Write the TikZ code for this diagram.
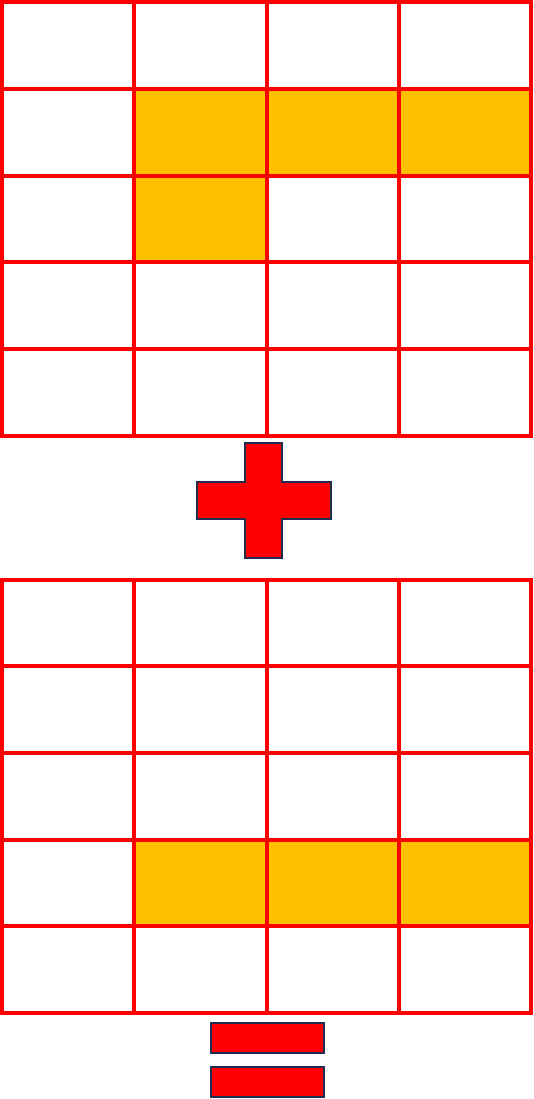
\documentclass[tikz,border=0pt]{standalone}
\usepackage{tikz}
\definecolor{gridred}{HTML}{FF0000}
\definecolor{cellgold}{HTML}{FFC000}
\definecolor{signnavy}{HTML}{1F2D4F}

\begin{document}
\begin{tikzpicture}[x=1pt, y=-1pt,
  gridline/.style={draw=gridred, line width=3.6pt, line cap=rect},
  hot/.style={fill=cellgold},
  sign/.style={fill=gridred, draw=signnavy, line width=2pt}]

\useasboundingbox (0,0) rectangle (534,1099);

% ---- 1. upper grid -----------------------------------------------------------------
\fill[hot] (134,89) rectangle (531,176);
\fill[hot] (134,176) rectangle (267,262);
\foreach \xc in {2,134,267,399,531}
  \draw[gridline] (\xc,2) -- (\xc,436);
\foreach \yc in {2,89,176,262,349,436}
  \draw[gridline] (2,\yc) -- (531,\yc);

% ---- 2. the plus -------------------------------------------------------------------
\draw[sign] (245,443) -- (282,443) -- (282,482) -- (331,482) -- (331,519)
  -- (282,519) -- (282,558) -- (245,558) -- (245,519) -- (197,519)
  -- (197,482) -- (245,482) -- cycle;

% ---- 3. lower grid -----------------------------------------------------------------
\fill[hot] (134,840) rectangle (531,926);
\foreach \xc in {2,134,267,399,531}
  \draw[gridline] (\xc,580) -- (\xc,1013);
\foreach \yc in {580,666,753,840,926,1013}
  \draw[gridline] (2,\yc) -- (531,\yc);

% ---- 4. the equals -----------------------------------------------------------------
\draw[sign] (211,1023) rectangle (324,1053);
\draw[sign] (211,1067) rectangle (324,1097);

\end{tikzpicture}
\end{document}
